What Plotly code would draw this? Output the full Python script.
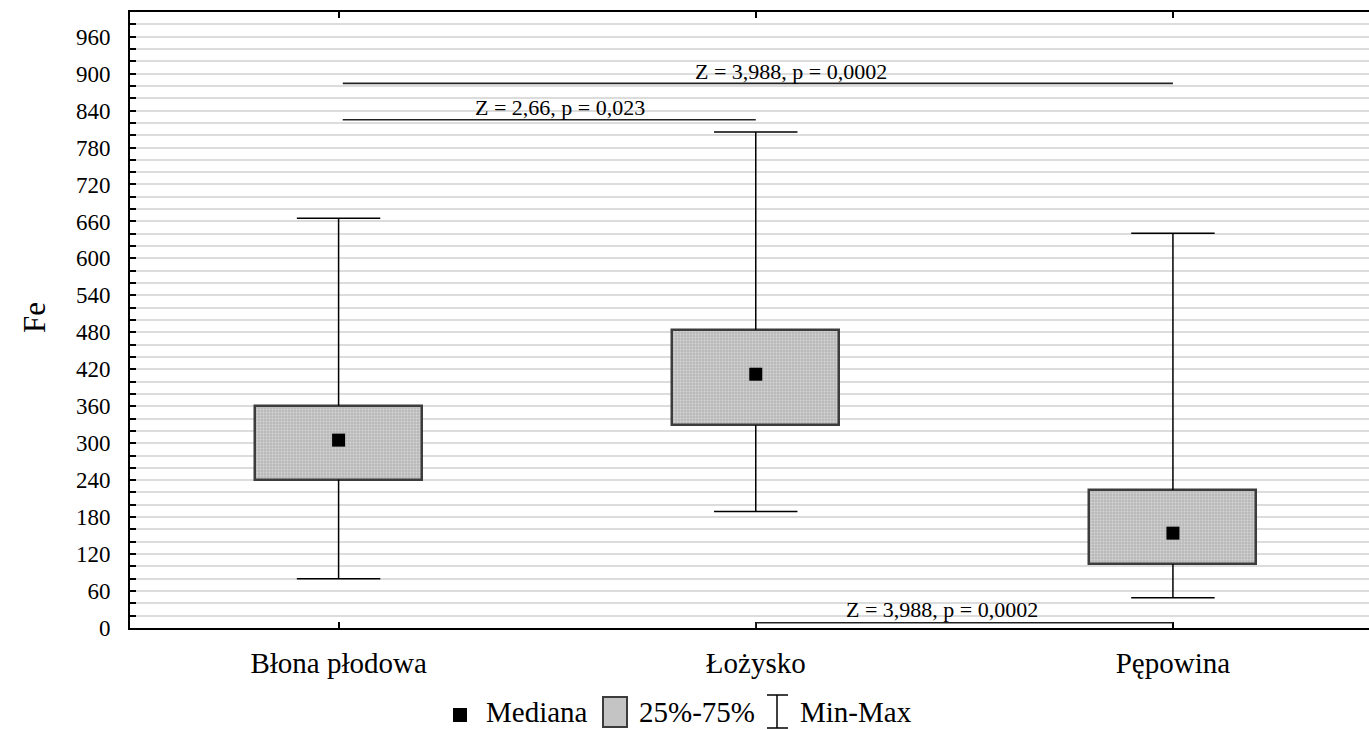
import plotly.graph_objects as go

# ---- data ----
categories = ["Błona płodowa", "Łożysko", "Pępowina"]
minimum = [80, 189, 49]
q1 = [241, 329, 104]
median = [305, 412, 154]
q3 = [361, 484, 224]
maximum = [665, 805, 641]
y_ticks = list(range(0, 961, 60))
test_labels = ["Z = 3,988, p = 0,0002", "Z = 2,66, p = 0,023", "Z = 3,988, p = 0,0002"]
legend_labels = ["Mediana", "25%-75%", "Min-Max"]

FONT = "'Liberation Serif', 'DejaVu Serif', serif"
W, H = 1369, 730
ML, MR, MT, MB = 130, 0, 12, 102
PW, PH = W - ML - MR, H - MT - MB


def xp(px):
    return (px - ML) / PW


def yp(py):
    return (H - MB - py) / PH


idx = list(range(len(categories)))

fig = go.Figure()

# whiskers
wx, wy = [], []
for i in idx:
    wx += [i, i, None, i, i, None, i - 0.1, i + 0.1, None, i - 0.1, i + 0.1, None]
    wy += [minimum[i], q1[i], None, q3[i], maximum[i], None,
           minimum[i], minimum[i], None, maximum[i], maximum[i], None]
fig.add_trace(go.Scatter(x=wx, y=wy, mode="lines", line=dict(color="black", width=1.5),
                         hoverinfo="skip", showlegend=False))

# boxes
fig.add_trace(go.Bar(
    x=idx, y=[q3[i] - q1[i] for i in idx], base=q1, width=0.4,
    marker=dict(color="#bcbcbc",
                line=dict(color="#3c3c3c", width=2.5),
                pattern=dict(shape=".", bgcolor="#b8b8b8", fgcolor="#f4f4f4",
                             size=3, solidity=0.35, fillmode="overlay")),
    showlegend=False))

# medians
fig.add_trace(go.Scatter(x=idx, y=median, mode="markers",
                         marker=dict(symbol="square", size=13, color="black"),
                         showlegend=False))

shapes = []
# comparison lines
shapes.append(dict(type="line", xref="x", yref="y", x0=0.01, x1=2.0, y0=884, y1=884,
                   line=dict(color="#222", width=1.8)))
shapes.append(dict(type="line", xref="x", yref="y", x0=0.01, x1=1.0, y0=825, y1=825,
                   line=dict(color="#222", width=1.5)))
shapes.append(dict(type="line", xref="x", yref="y", x0=1.0, x1=2.0, y0=8.5, y1=8.5,
                   line=dict(color="#222", width=1.5)))
shapes.append(dict(type="line", xref="x", yref="y", x0=1.0, x1=1.0, y0=0, y1=8.5,
                   line=dict(color="#222", width=1.5)))

annotations = [
    dict(x=1.084, y=903, xref="x", yref="y", text=test_labels[0], showarrow=False,
         font=dict(family=FONT, size=22, color="black"), xanchor="center", yanchor="middle"),
    dict(x=0.531, y=845, xref="x", yref="y", text=test_labels[1], showarrow=False,
         font=dict(family=FONT, size=22, color="black"), xanchor="center", yanchor="middle"),
    dict(x=1.4475, y=30, xref="x", yref="y", text=test_labels[2], showarrow=False,
         font=dict(family=FONT, size=22, color="black"), xanchor="center", yanchor="middle"),
    dict(x=xp(34), y=yp(318), xref="paper", yref="paper", text="Fe", showarrow=False,
         textangle=-90, font=dict(family=FONT, size=31, color="black"),
         xanchor="center", yanchor="middle"),
]

# custom legend
shapes.append(dict(type="rect", xref="paper", yref="paper", x0=xp(453), x1=xp(467),
                   y0=yp(722), y1=yp(708), fillcolor="black", line=dict(width=0)))
shapes.append(dict(type="rect", xref="paper", yref="paper", x0=xp(603), x1=xp(627),
                   y0=yp(727), y1=yp(697), fillcolor="#c4c4c4",
                   line=dict(color="#3c3c3c", width=2)))
for seg in [(777, 695, 777, 728), (767, 695, 788, 695), (767, 728, 788, 728)]:
    shapes.append(dict(type="line", xref="paper", yref="paper", x0=xp(seg[0]), y0=yp(seg[1]),
                       x1=xp(seg[2]), y1=yp(seg[3]), line=dict(color="black", width=1.5)))
for lbl, px in zip(legend_labels, [484, 637, 798]):
    annotations.append(dict(x=xp(px), y=yp(712), xref="paper", yref="paper", text=lbl,
                            showarrow=False, xanchor="left", yanchor="middle",
                            font=dict(family=FONT, size=29, color="black")))

fig.update_layout(
    width=W, height=H,
    margin=dict(l=ML, r=MR, t=MT, b=MB, pad=0),
    paper_bgcolor="white", plot_bgcolor="white",
    font=dict(family=FONT, color="black"),
    shapes=shapes, annotations=annotations,
    showlegend=False, bargap=0,
)
fig.update_xaxes(
    range=[-0.5, 2.47], tickmode="array", tickvals=idx, ticktext=categories,
    ticks="inside", ticklen=6, tickwidth=1.5, tickcolor="black",
    showline=True, linecolor="black", linewidth=2, mirror="ticks",
    showgrid=False, zeroline=False,
    tickfont=dict(family=FONT, size=29, color="black"), ticklabelstandoff=8,
)
fig.update_yaxes(
    range=[0, 1000], tickmode="array", tickvals=y_ticks,
    ticks="inside", ticklen=6, tickwidth=1.5, tickcolor="black",
    showline=True, linecolor="black", linewidth=2, mirror=False,
    showgrid=True, gridcolor="#dcdcdc", gridwidth=2, zeroline=False,
    minor=dict(dtick=20, tick0=0, ticks="inside", ticklen=6, tickwidth=1.5, tickcolor="black",
               showgrid=True, gridcolor="#dcdcdc", gridwidth=2),
    tickfont=dict(family=FONT, size=23, color="black"), ticklabelstandoff=13,
)

fig.write_html("out.html")
